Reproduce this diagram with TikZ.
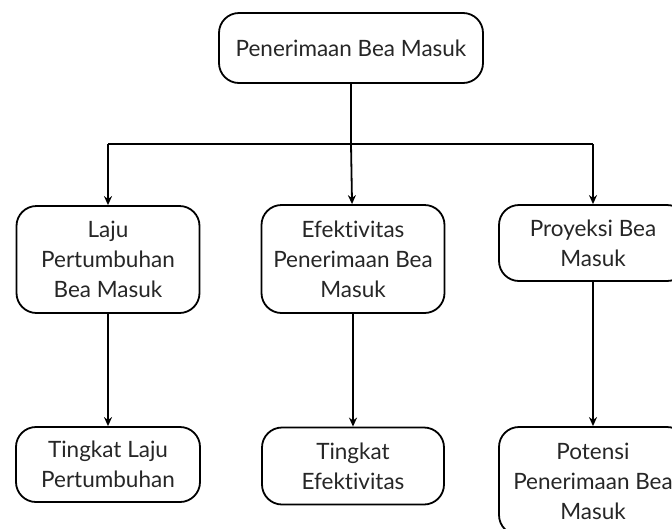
\documentclass[tikz,border=0pt]{standalone}
\usepackage{fontspec}
\setmainfont{Lato}[Ligatures={NoCommon}]
\usetikzlibrary{arrows.meta}
\tikzset{
  round box/.style={
    draw=black,
    line width=1.8pt,
    rounded corners=20pt,
    align=center,
    inner sep=0pt,
    font=\fontsize{22.5}{30}\selectfont,
    text=black!85,
    minimum width={#1pt},
  },
  link/.style={
    line width=1.8pt,
    -{Stealth[length=9pt,width=8pt]},
  }
}
\begin{document}
\begin{tikzpicture}[x=1pt,y=-1pt]
        \useasboundingbox (0,0) rectangle (672,528);
        \clip (0,0) rectangle (672,528);

        \node [round box=264, minimum height=70pt] (top) at (351,48) {Penerimaan Bea Masuk};

        \node [round box=183, minimum height=107pt] (laju) at (108,259.5) {Laju\\Pertumbuhan\\Bea Masuk};
        \node [round box=183, minimum height=108pt] (efek) at (353,259) {Efektivitas\\Penerimaan Bea\\Masuk};
        \node [round box=188, minimum height=76pt] (proy) at (593,243) {Proyeksi Bea\\Masuk};

        \node [round box=184, minimum height=75pt] (tlaju) at (108,464.5) {Tingkat Laju\\Pertumbuhan};
        \node [round box=182, minimum height=77pt] (tefek) at (353,466) {Tingkat\\Efektivitas};
        \node [round box=188, minimum height=108pt] (pot) at (593,481) {Potensi\\Penerimaan Bea\\Masuk};

        \coordinate (bus) at (351,144);
        \draw [line width=1.8pt] (top) -- (bus);
        \draw [line width=1.8pt] (laju.north |- bus) -- (proy.north |- bus);
        \draw [link] (bus) -- (efek);
        \draw [link] (laju.north |- bus) -- (laju);
        \draw [link] (proy.north |- bus) -- (proy);

        \draw [link] (laju) -- (tlaju);
        \draw [link] (efek) -- (tefek);
        \draw [link] (proy) -- (pot);
      \end{tikzpicture}
\end{document}
